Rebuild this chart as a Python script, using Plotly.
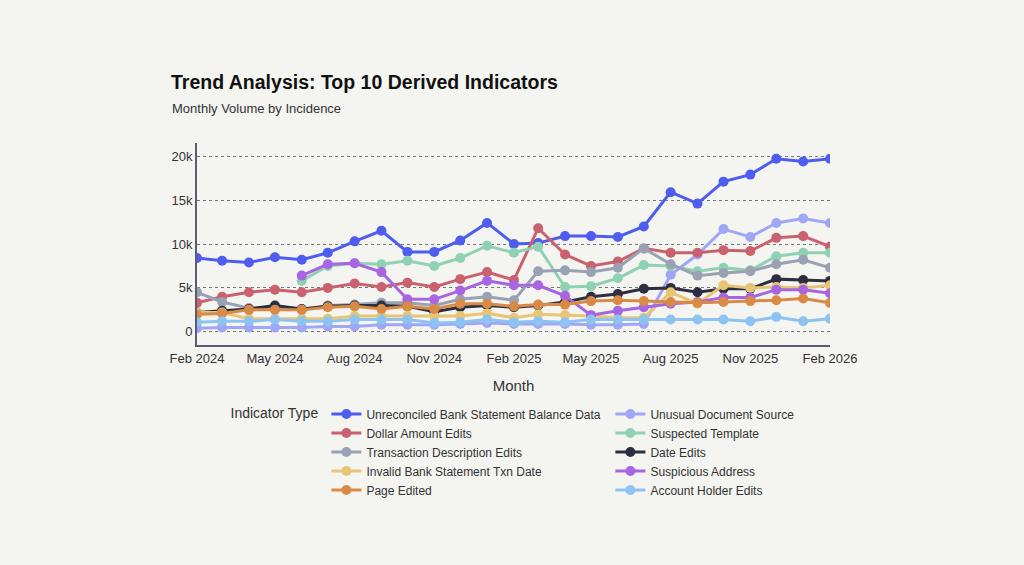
import plotly.graph_objects as go

months = ["2024-02", "2024-03", "2024-04", "2024-05", "2024-06", "2024-07", "2024-08",
          "2024-09", "2024-10", "2024-11", "2024-12", "2025-01", "2025-02", "2025-03",
          "2025-04", "2025-05", "2025-06", "2025-07", "2025-08", "2025-09", "2025-10",
          "2025-11", "2025-12", "2026-01", "2026-02"]

unreconciled = [8400, 8100, 7900, 8500, 8200, 9000, 10300, 11500, 9100, 9100, 10400, 12400, 10000,
                10100, 10900, 10900, 10800, 12000, 15900, 14600, 17100, 17900, 19700, 19400, 19700]
unusual_source = [400, 500, 500, 500, 500, 600, 600, 800, 800, 800, 900, 1000, 900,
                  900, 900, 800, 800, 900, 6500, 8800, 11700, 10800, 12400, 12900, 12400]
dollar_edits = [3300, 4000, 4500, 4800, 4500, 5000, 5500, 5100, 5600, 5100, 6000, 6800, 5900,
                11800, 8800, 7500, 8000, 9500, 9000, 9000, 9300, 9200, 10700, 10900, 9700]
suspected_template = [None, None, None, None, 5800, 7500, 7800, 7700, 8100, 7500, 8400, 9800, 9000,
                      9700, 5100, 5200, 6100, 7600, 7500, 6900, 7300, 7000, 8600, 9000, 9000]
txn_description = [4500, 3400, 2700, 2700, 2500, 3000, 3100, 3300, 3300, 3000, 3700, 4000, 3600,
                   6900, 7000, 6800, 7300, 9500, 7700, 6400, 6700, 6900, 7700, 8200, 7300]
date_edits = [2200, 2400, 2600, 3000, 2600, 2900, 3000, 3000, 2900, 2300, 2800, 3000, 2800,
              3000, 3400, 4000, 4300, 4900, 5000, 4500, 4900, 4900, 6000, 5900, 5800]
invalid_txn_date = [2200, 2200, 1500, 1500, 1500, 1500, 1800, 1800, 1800, 1800, 1800, 2100, 1600,
                    2000, 1900, 1800, 1600, 1600, 4500, 3200, 5300, 5000, 5100, 5000, 5300]
suspicious_address = [None, None, None, None, 6400, 7700, 7800, 6800, 3700, 3700, 4700, 5800, 5300,
                      5300, 4100, 1900, 2400, 2800, 3200, 3400, 3900, 3900, 4800, 4800, 4400]
page_edited = [2000, 2100, 2500, 2500, 2500, 2800, 2900, 2600, 2900, 2600, 3200, 3200, 2900,
               3100, 3100, 3500, 3600, 3500, 3400, 3300, 3400, 3500, 3600, 3800, 3300]
account_holder = [1100, 1200, 1200, 1400, 1200, 1200, 1400, 1400, 1400, 1000, 1100, 1400, 1100,
                  1200, 1100, 1400, 1400, 1400, 1400, 1400, 1400, 1200, 1700, 1200, 1500]

series_names = ["Unreconciled Bank Statement Balance Data", "Unusual Document Source",
                "Dollar Amount Edits", "Suspected Template", "Transaction Description Edits",
                "Date Edits", "Invalid Bank Statement Txn Date", "Suspicious Address",
                "Page Edited", "Account Holder Edits"]
series_values = [unreconciled, unusual_source, dollar_edits, suspected_template, txn_description,
                 date_edits, invalid_txn_date, suspicious_address, page_edited, account_holder]
colors = ["#4f5cf0", "#a0a6f6", "#c9616f", "#8fd1b3", "#9aa1b4",
          "#2d2e40", "#e8c574", "#a765e2", "#d98a46", "#8dc3f1"]

FONT = "Arial, Liberation Sans, sans-serif"
BG = "#f4f4f0"

fig = go.Figure()
for name, vals, col in zip(series_names, series_values, colors):
    fig.add_trace(go.Scatter(
        x=months, y=vals, name=name, mode="lines+markers",
        line=dict(color=col, width=3), marker=dict(color=col, size=10),
    ))

fig.update_layout(
    width=1024, height=565,
    paper_bgcolor=BG, plot_bgcolor=BG,
    font=dict(family=FONT, size=12, color="#333"),
    margin=dict(l=197, r=194, t=143, b=220),
    title=dict(
        text="<b>Trend Analysis: Top 10 Derived Indicators</b>",
        font=dict(size=19.5, color="#111", family=FONT),
        x=171 / 1024, xref="container", xanchor="left",
        y=1 - 82 / 565, yref="container", yanchor="middle",
    ),
    annotations=[dict(
        text="Monthly Volume by Incidence", showarrow=False,
        xref="paper", yref="paper", x=(170 - 197) / 633, y=(345 - 108) / 202,
        xanchor="left", yanchor="middle",
        font=dict(size=13, color="#333", family=FONT),
    )],
    xaxis=dict(
        range=["2024-02-01", "2026-02-01"],
        tick0="2024-02-01", dtick="M3", tickformat="%b %Y",
        showgrid=False, showline=True, linecolor="#5c5c6e", linewidth=2,
        ticks="", tickfont=dict(size=13, color="#333"),
        title=dict(text="Month", font=dict(size=15, color="#333"), standoff=16),
    ),
    yaxis=dict(
        range=[-1500, 21500], dtick=5000, tickformat="~s",
        showgrid=True, gridcolor="#777", gridwidth=1.2, griddash="3px,3px",
        zeroline=False, showline=True, linecolor="#5c5c6e", linewidth=2,
        ticks="", tickfont=dict(size=13, color="#333"),
    ),
    legend=dict(
        orientation="h", x=0.5 + 48 / 633, xanchor="center", y=-0.27, yanchor="top",
        title=dict(text="Indicator Type", font=dict(size=14, color="#333")),
        font=dict(size=12, color="#333"), bgcolor="rgba(0,0,0,0)",
        entrywidth=239, entrywidthmode="pixels",
    ),
    showlegend=True,
)

fig.write_html("out.html")
